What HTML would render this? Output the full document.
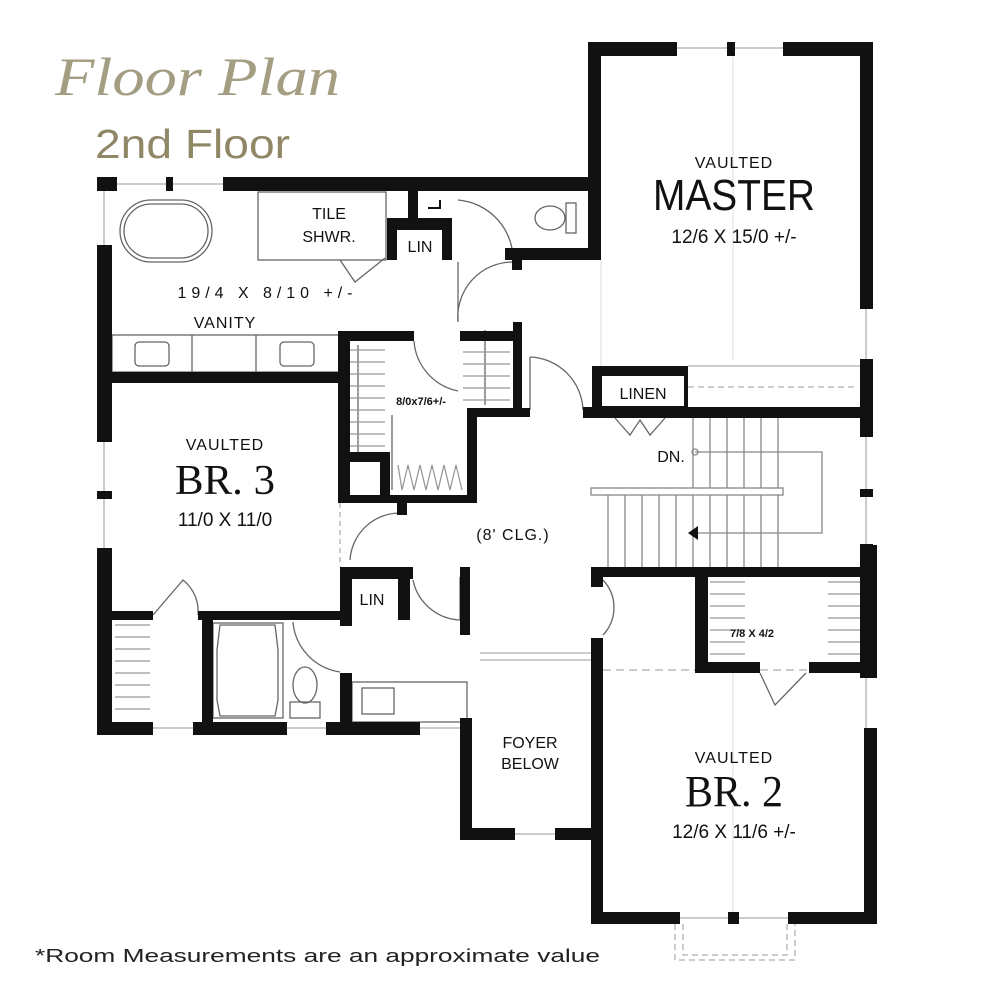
<!DOCTYPE html>
<html><head><meta charset="utf-8"><style>
html,body{margin:0;padding:0;background:#fff;}
svg{display:block;}
.t{font-family:"Liberation Sans",sans-serif;fill:#111;text-anchor:middle;}
</style></head><body>
<svg width="1000" height="1000" viewBox="0 0 1000 1000" xmlns="http://www.w3.org/2000/svg">
<rect width="1000" height="1000" fill="#fff"/>
<text x="55" y="95" style="font-family:'Liberation Serif',serif;font-style:italic" font-size="54" fill="#a39d82" textLength="285" lengthAdjust="spacingAndGlyphs">Floor  Plan</text>
<text x="95" y="158" style="font-family:'Liberation Sans',sans-serif" font-size="41" fill="#8f8766" textLength="195" lengthAdjust="spacingAndGlyphs">2nd Floor</text>
<text x="35" y="962" style="font-family:'Liberation Sans',sans-serif" font-size="18" fill="#222" textLength="565" lengthAdjust="spacingAndGlyphs">*Room Measurements are an approximate value</text>

<g stroke="#999" stroke-width="1" fill="none">
<line x1="117" y1="184" x2="223" y2="184"/>
<line x1="104" y1="191" x2="104" y2="245"/>
<line x1="104" y1="442" x2="104" y2="548"/>
<line x1="677" y1="48" x2="783" y2="48"/>
<line x1="866" y1="309" x2="866" y2="359"/>
<line x1="866" y1="437" x2="866" y2="544"/>
<line x1="866" y1="678" x2="866" y2="728"/>
<line x1="112" y1="728" x2="467" y2="728"/>
<line x1="515" y1="834" x2="555" y2="834"/>
<line x1="680" y1="918" x2="788" y2="918"/>
<line x1="480" y1="653" x2="591" y2="653"/><line x1="480" y1="660" x2="591" y2="660"/>
<line x1="688" y1="366" x2="860" y2="366"/>
<line x1="340" y1="503" x2="340" y2="567" stroke-dasharray="5,4"/>
<line x1="688" y1="387" x2="855" y2="387" stroke-dasharray="6,4"/>
<line x1="603" y1="670" x2="695" y2="670" stroke-dasharray="8,5"/>
<line x1="760" y1="670" x2="809" y2="670" stroke-dasharray="8,5"/>
<path d="M675 924 V960 H795 V924 M683 924 V955 H787 V924" stroke-dasharray="6,4"/>
<line x1="733" y1="57" x2="733" y2="360" stroke="#ddd"/>
<line x1="601" y1="260" x2="601" y2="366" stroke="#ddd"/>
<line x1="733" y1="673" x2="733" y2="912" stroke="#ddd"/>
</g>

<g stroke="#666" stroke-width="1.3" fill="none">
<rect x="120" y="200" width="92" height="62" rx="31"/>
<rect x="124" y="204" width="84" height="54" rx="27"/>
<rect x="258" y="192" width="128" height="68"/>
<path d="M340 260 L355 282 L385 258"/>
<rect x="112" y="335" width="228" height="37"/>
<line x1="192" y1="335" x2="192" y2="372"/><line x1="256" y1="335" x2="256" y2="372"/>
<rect x="135" y="342" width="34" height="24" rx="4"/>
<rect x="280" y="342" width="34" height="24" rx="4"/>
<ellipse cx="550" cy="218" rx="15" ry="12"/>
<rect x="566" y="203" width="10" height="30"/>
<rect x="213" y="623" width="70" height="95"/>
<path d="M220 625 L275 625 L278 650 L278 700 L275 716 L220 716 L217 700 L217 650 Z"/>
<ellipse cx="305" cy="685" rx="12" ry="18"/>
<rect x="290" y="702" width="30" height="16"/>
<rect x="352" y="682" width="115" height="40"/>
<rect x="362" y="688" width="32" height="26"/>
<path d="M458 200 A60 60 0 0 1 513 262"/>
<path d="M458 322 A55 55 0 0 1 513 262 M458 262 V322"/>
<path d="M414 341 A55 55 0 0 0 458 391"/>
<path d="M530 357 A55 55 0 0 1 583 410 M530 357 V410"/>
<path d="M350 560 A50 50 0 0 1 400 513"/>
<path d="M413 580 A50 50 0 0 0 460 620 M460 577 V620"/>
<path d="M293 622 A55 55 0 0 0 340 672"/>
<path d="M603 580 A40 40 0 0 1 603 635"/>
<path d="M153 615 L183 580 A40 40 0 0 1 198 615"/>
<path d="M760 673 L775 705 L806 673"/>
<path d="M615 418 L630 435 L640 420 L650 435 L665 418"/>
<path d="M358 345 V495 M392 415 V490 M485 330 V405"/>
<g stroke="#999">
<path d="M350 350 H385 M350 362 H385 M350 374 H385 M350 386 H385 M350 398 H385 M350 410 H385 M350 422 H385 M350 434 H385 M350 446 H385"/>
<path d="M398 465 L402 490 L408 465 L414 490 L420 465 L426 490 L432 465 L438 490 L444 465 L450 490 L456 465 L462 490"/>
<path d="M463 340 H510 M463 352 H510 M463 364 H510 M463 376 H510 M463 388 H510 M463 400 H510"/>
<path d="M115 625 H150 M115 637 H150 M115 649 H150 M115 661 H150 M115 673 H150 M115 685 H150 M115 697 H150 M115 709 H150"/>
<path d="M710 582 H745 M710 594 H745 M710 606 H745 M710 618 H745 M710 630 H745 M710 642 H745 M710 654 H745"/>
<path d="M828 582 H862 M828 594 H862 M828 606 H862 M828 618 H862 M828 630 H862 M828 642 H862 M828 654 H862"/>
</g>
<g stroke="#888">
<path d="M693 418 V488 M710 418 V488 M727 418 V488 M744 418 V488 M761 418 V488 M778 418 V488"/>
<path d="M608 495 V567 M625 495 V567 M642 495 V567 M659 495 V567 M676 495 V567 M693 495 V567 M710 495 V567 M727 495 V567 M744 495 V567 M761 495 V567 M778 495 V567"/>
<rect x="591" y="488" width="192" height="7"/>
<path d="M695 452 H822 V533 H695"/>
<circle cx="695" cy="452" r="3"/>
</g>
</g>
<path d="M688 533 L698 526 L698 540 Z" fill="#111"/>

<g fill="#111">
<rect x="97" y="177" width="20" height="14"/>
<rect x="166" y="177" width="7" height="14"/>
<rect x="223" y="177" width="378" height="14"/>
<rect x="588" y="42" width="89" height="14"/>
<rect x="727" y="42" width="8" height="14"/>
<rect x="783" y="42" width="90" height="14"/>
<rect x="588" y="42" width="13" height="218"/>
<rect x="860" y="42" width="13" height="267"/>
<rect x="860" y="359" width="13" height="78"/>
<rect x="860" y="489" width="13" height="8"/>
<rect x="860" y="544" width="13" height="134"/>
<rect x="505" y="248" width="96" height="12"/>
<rect x="512" y="248" width="10" height="22"/>
<rect x="408" y="191" width="10" height="30"/>
<rect x="387" y="218" width="65" height="42"/>
<rect x="97" y="245" width="15" height="197"/>
<rect x="97" y="491" width="15" height="8"/>
<rect x="97" y="548" width="15" height="187"/>
<rect x="112" y="372" width="238" height="11"/>
<rect x="338" y="331" width="76" height="10"/>
<rect x="460" y="331" width="62" height="10"/>
<rect x="513" y="322" width="9" height="95"/>
<rect x="467" y="408" width="63" height="9"/>
<rect x="467" y="408" width="10" height="95"/>
<rect x="338" y="331" width="12" height="172"/>
<rect x="338" y="495" width="139" height="8"/>
<rect x="338" y="452" width="52" height="10"/>
<rect x="380" y="452" width="10" height="51"/>
<rect x="397" y="503" width="10" height="12"/>
<rect x="592" y="366" width="96" height="52"/>
<rect x="583" y="407" width="27" height="11"/>
<rect x="688" y="407" width="185" height="11"/>
<rect x="340" y="567" width="73" height="12"/>
<rect x="340" y="567" width="12" height="59"/>
<rect x="398" y="567" width="12" height="53"/>
<rect x="98" y="611" width="55" height="9"/>
<rect x="198" y="611" width="154" height="9"/>
<rect x="202" y="611" width="11" height="124"/>
<rect x="340" y="673" width="12" height="62"/>
<rect x="98" y="722" width="55" height="13"/>
<rect x="193" y="722" width="94" height="13"/>
<rect x="326" y="722" width="94" height="13"/>
<rect x="460" y="567" width="10" height="68"/>
<rect x="460" y="718" width="12" height="122"/>
<rect x="460" y="828" width="55" height="12"/>
<rect x="555" y="828" width="48" height="12"/>
<rect x="591" y="567" width="12" height="20"/>
<rect x="591" y="638" width="12" height="286"/>
<rect x="591" y="567" width="286" height="10"/>
<rect x="695" y="567" width="13" height="106"/>
<rect x="695" y="662" width="65" height="11"/>
<rect x="809" y="662" width="68" height="11"/>
<rect x="864" y="545" width="13" height="133"/>
<rect x="864" y="728" width="13" height="196"/>
<rect x="591" y="912" width="89" height="12"/>
<rect x="728" y="912" width="11" height="12"/>
<rect x="788" y="912" width="89" height="12"/>
</g>
<rect x="397" y="230" width="45" height="30" fill="#fff"/>
<rect x="602" y="376" width="82" height="30" fill="#fff"/>
<rect x="352" y="579" width="46" height="39" fill="#fff"/>
<rect x="350" y="462" width="30" height="33" fill="#fff"/>
<rect x="418" y="191" width="34" height="27" fill="#fff"/>
<path d="M428 208 H440 V200" stroke="#111" stroke-width="2" fill="none"/>

<g class="t" font-size="16">
<text x="329" y="219">TILE</text>
<text x="329" y="242">SHWR.</text>
<text x="420" y="252">LIN</text>
<text x="265" y="298" textLength="175" lengthAdjust="spacing">19/4 X 8/10 +/-</text>
<text x="225" y="328" letter-spacing="1">VANITY</text>
<text x="421" y="405" font-size="11" font-weight="bold">8/0x7/6+/-</text>
<text x="225" y="450" letter-spacing="1">VAULTED</text>
<text x="225" y="526" font-size="19">11/0 X 11/0</text>
<text x="513" y="540" letter-spacing="1">(8' CLG.)</text>
<text x="372" y="605">LIN</text>
<text x="530" y="748">FOYER</text>
<text x="530" y="769">BELOW</text>
<text x="734" y="763" letter-spacing="1">VAULTED</text>
<text x="734" y="838" font-size="19">12/6 X 11/6 +/-</text>
<text x="734" y="168" letter-spacing="1">VAULTED</text>
<text x="734" y="243" font-size="19">12/6 X 15/0 +/-</text>
<text x="643" y="399">LINEN</text>
<text x="671" y="462">DN.</text>
<text x="752" y="637" font-size="11" font-weight="bold">7/8 X 4/2</text>
</g>
<text x="225" y="494" text-anchor="middle" fill="#111" style="font-family:'Liberation Serif',serif" font-size="42" textLength="100" lengthAdjust="spacingAndGlyphs">BR. 3</text>
<text x="734" y="806" text-anchor="middle" fill="#111" style="font-family:'Liberation Serif',serif" font-size="44" textLength="98" lengthAdjust="spacingAndGlyphs">BR. 2</text>
<text x="734" y="210" text-anchor="middle" fill="#111" style="font-family:'Liberation Sans',sans-serif" font-size="44" textLength="162" lengthAdjust="spacingAndGlyphs">MASTER</text>
</svg>
</body></html>
